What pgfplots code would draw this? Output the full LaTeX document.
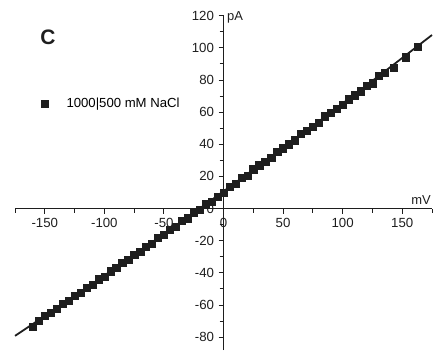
\documentclass[border=0pt]{standalone}
\usepackage{pgfplots}
\pgfplotsset{compat=1.18}
\usepackage{fontspec}
\setmainfont{Liberation Sans}
\definecolor{ink}{HTML}{1E1E1E}
\begin{document}
\fontsize{13}{15}\selectfont
\begin{tikzpicture}[x=1bp,y=1bp]
\useasboundingbox (0,0) rectangle (443,351);
\begin{axis}[at={(15bp,1bp)}, anchor=south west, scale only axis,
  width=417bp, height=334.3bp,
  axis lines=middle, xmin=-175, xmax=175, ymin=-88, ymax=120,
  xtick={-150,-100,...,150}, minor xtick={-175,-125,...,175},
  ytick={-80,-60,...,120}, minor ytick={-70,-50,...,110},
  tick align=outside, major tick length=5bp, minor tick length=4bp,
  hide obscured x ticks=false, hide obscured y ticks=false,
  axis line style={line width=1.1bp, ink, -},
  tick style={line width=0.9bp, ink},
  /pgf/number format/assume math mode=true,
  ticklabel style={font=\fontsize{13.3}{15}\selectfont, text=ink},
  legend style={at={(axis cs:-155,65.2)}, anchor=west, draw=none, fill=none,
    font=\fontsize{13.2}{15}\selectfont, inner sep=0pt},
  legend image code/.code={\path[draw=none,fill=none] (-0.2cm,0) -- (0.7cm,0); \draw[#1] plot coordinates {(0cm,0cm)};},
  clip=false,
]
\addplot[ink, line width=1.8bp, smooth, forget plot] coordinates {
(-175,-79.2) (-140,-61.85) (-105,-44.2) (-70,-26.2) (-35,-7.9) (0,10.7)
(35,29.6) (70,48.7) (105,68.2) (140,88.0) (175,108.0)};
\addplot[only marks, mark=square*, mark size=3.6bp, ink] coordinates {
(-160,-73.5) (-155,-70.0) (-150,-66.5) (-145,-65.0) (-140,-62.5) (-135,-59.0)
(-130,-57.5) (-125,-54.0) (-120,-52.5) (-115,-49.0) (-110,-47.5) (-105,-44.0)
(-100,-42.5) (-95,-39.0) (-90,-37.0) (-85,-33.5) (-80,-32.0) (-75,-28.5)
(-70,-27.0) (-65,-23.5) (-60,-22.0) (-55,-18.0) (-50,-16.5) (-45,-13.0)
(-40,-11.5) (-35,-7.5) (-30,-6.0) (-25,-2.5) (-20,-0.5) (-15,3.0)
(-10,4.5) (-5,7.5) (0,10.0) (5,13.5) (10,15.5) (15,19.0)
(20,20.5) (25,24.5) (30,27.0) (35,29.0) (40,31.5) (45,35.5)
(50,37.5) (55,40.0) (60,42.5) (65,46.5) (70,48.5) (75,51.0)
(80,53.5) (85,57.5) (90,59.5) (95,62.0) (100,64.5) (105,68.0)
(110,70.5) (115,73.0) (120,76.5) (125,78.0) (130,82.5) (135,84.5)
(143,87.6) (153,94.2) (163,100.8)};
\addlegendentry{1000|500 mM NaCl}
\node[anchor=south east, text=ink, inner sep=1bp] at (axis cs:175,1.5) {mV};
\node[anchor=west, text=ink, inner sep=1bp] at (axis cs:2,119) {pA};
\end{axis}
\node[font=\fontsize{21}{24}\selectfont\bfseries, text=ink] at (48,314) {C};
\end{tikzpicture}
\end{document}
